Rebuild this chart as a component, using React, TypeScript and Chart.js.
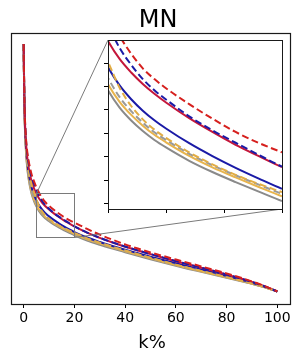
import React, { useEffect, useRef } from "react";
import { Chart, registerables } from "chart.js";
Chart.register(...registerables);

// ---------------- data ----------------
const kValues = [0, 0.1, 0.25, 0.5, 1, 1.5, 2, 3, 4, 5, 6, 7, 8, 9, 10, 12, 14, 16, 18, 20, 25, 30, 35, 40, 45, 50, 55, 60, 65, 70, 75, 80, 85, 90, 95, 100];

const graySolid = [0.415, 0.37, 0.322, 0.275, 0.232, 0.208, 0.192, 0.171, 0.158, 0.1484, 0.141, 0.1355, 0.131, 0.1272, 0.124, 0.1183, 0.1135, 0.1092, 0.1051, 0.1011, 0.0925, 0.0855, 0.0792, 0.0733, 0.0675, 0.0618, 0.0562, 0.0508, 0.0458, 0.041, 0.0362, 0.0313, 0.0264, 0.0212, 0.0156, 0.0088];
const goldSolid = [0.415, 0.3705, 0.323, 0.2765, 0.234, 0.2102, 0.1944, 0.1735, 0.1606, 0.151, 0.1435, 0.1379, 0.1333, 0.1294, 0.1262, 0.1204, 0.1155, 0.1112, 0.1071, 0.1031, 0.0944, 0.0873, 0.0809, 0.0749, 0.069, 0.0632, 0.0575, 0.052, 0.0469, 0.042, 0.0371, 0.0321, 0.027, 0.0216, 0.0158, 0.0088];
const blueSolid = [0.415, 0.372, 0.326, 0.281, 0.24, 0.217, 0.2015, 0.181, 0.168, 0.1583, 0.1505, 0.1446, 0.1397, 0.1356, 0.1321, 0.1258, 0.1203, 0.1153, 0.1107, 0.1063, 0.0973, 0.09, 0.0835, 0.0774, 0.0716, 0.0659, 0.0604, 0.0551, 0.05, 0.045, 0.0397, 0.0343, 0.0288, 0.0229, 0.0165, 0.0088];
const redSolid = [0.415, 0.374, 0.33, 0.287, 0.248, 0.226, 0.211, 0.1915, 0.179, 0.1695, 0.1618, 0.156, 0.1511, 0.1469, 0.1432, 0.1365, 0.1306, 0.1251, 0.1203, 0.1156, 0.1053, 0.0968, 0.0892, 0.0823, 0.0761, 0.0701, 0.0642, 0.0585, 0.0531, 0.0478, 0.0424, 0.0367, 0.0308, 0.0244, 0.0173, 0.0088];
const grayDashed = [0.415, 0.371, 0.324, 0.278, 0.2365, 0.213, 0.1975, 0.1768, 0.1636, 0.1537, 0.1455, 0.1395, 0.1346, 0.1305, 0.1272, 0.1213, 0.1164, 0.1121, 0.1081, 0.1042, 0.0955, 0.0883, 0.0818, 0.0757, 0.0697, 0.0638, 0.058, 0.0524, 0.0472, 0.0422, 0.0372, 0.0321, 0.027, 0.0216, 0.0158, 0.0088];
const goldDashed = [0.415, 0.372, 0.326, 0.282, 0.243, 0.221, 0.2065, 0.186, 0.1718, 0.1606, 0.1495, 0.1417, 0.136, 0.1316, 0.1281, 0.1219, 0.1168, 0.1123, 0.1084, 0.1049, 0.096, 0.0887, 0.0822, 0.076, 0.07, 0.0641, 0.0583, 0.0527, 0.0475, 0.0425, 0.0374, 0.0323, 0.0272, 0.0217, 0.0159, 0.0088];
const blueDashed = [0.415, 0.375, 0.332, 0.29, 0.252, 0.231, 0.217, 0.198, 0.1863, 0.1764, 0.1665, 0.1593, 0.1532, 0.1484, 0.1445, 0.1373, 0.1313, 0.126, 0.1208, 0.1158, 0.1055, 0.097, 0.0894, 0.0825, 0.0762, 0.0702, 0.0643, 0.0586, 0.0532, 0.0479, 0.0424, 0.0367, 0.0308, 0.0243, 0.0172, 0.0088];
const redDashed = [0.415, 0.375, 0.333, 0.292, 0.255, 0.235, 0.222, 0.203, 0.1905, 0.1799, 0.1715, 0.164, 0.1578, 0.1532, 0.1493, 0.1425, 0.1363, 0.1306, 0.1259, 0.1219, 0.1115, 0.102, 0.0937, 0.0861, 0.0793, 0.073, 0.067, 0.0612, 0.0556, 0.05, 0.0442, 0.0383, 0.0321, 0.0253, 0.0178, 0.0088];

const mainXTicks = [0, 20, 40, 60, 80, 100];
const insetXTicks = [5, 10, 15, 20];
const insetYTicks = [0.1, 0.11, 0.12, 0.13, 0.14, 0.15, 0.16];

const mainXRange = [-5, 105];
const mainYRange = [-0.0118, 0.4331];
const insetXRange = [5, 20];
const insetYRange = [0.0977, 0.1699];

const titleText = "MN";
const xLabelText = "k%";

// ---------------- styles ----------------
const FONT = "'DejaVu Sans', 'Liberation Sans', sans-serif";
const W = 303;
const H = 352;
const INSET_BOX = { left: 100, top: 30, width: 190, height: 190 };
const INSET_PAD = { left: 8, top: 10, right: 8, bottom: 11 };

type Series = { data: number[]; color: string; dash: number[] };
const seriesList: Series[] = [
  { data: graySolid, color: "#8a8a8a", dash: [] },
  { data: goldSolid, color: "#e8b44c", dash: [] },
  { data: blueSolid, color: "#1a1aa6", dash: [] },
  { data: redSolid, color: "#c4163a", dash: [] },
  { data: grayDashed, color: "#9a9a9a", dash: [7, 3.5] },
  { data: goldDashed, color: "#e2ad45", dash: [7, 3.5] },
  { data: blueDashed, color: "#1a1aa6", dash: [7, 3.5] },
  { data: redDashed, color: "#d6201e", dash: [7, 3.5] },
];

function buildDatasets() {
  return seriesList.map((s, i) => ({
    data: kValues.map((k, j) => ({ x: k, y: s.data[j] })),
    borderColor: s.color,
    borderWidth: 2,
    borderDash: s.dash,
    pointRadius: 0,
    fill: false,
    cubicInterpolationMode: "monotone" as const,
    clip: 0,
    order: seriesList.length - i,
  }));
}

export default function App() {
  const mainRef = useRef<HTMLCanvasElement | null>(null);
  const insetRef = useRef<HTMLCanvasElement | null>(null);

  useEffect(() => {
    document.body.style.margin = "0";
    if (!mainRef.current || !insetRef.current) return;

    const insetArea = {
      left: INSET_BOX.left + INSET_PAD.left,
      top: INSET_BOX.top + INSET_PAD.top,
      right: INSET_BOX.left + INSET_BOX.width - INSET_PAD.right,
      bottom: INSET_BOX.top + INSET_BOX.height - INSET_PAD.bottom,
    };

    const mainPlugin = {
      id: "mainDecor",
      afterDraw(chart: any) {
        const ctx = chart.ctx as CanvasRenderingContext2D;
        const a = chart.chartArea;
        const xs = chart.scales.x;
        const ys = chart.scales.y;
        ctx.save();
        // zoom indicator rect
        const rx1 = Math.round(xs.getPixelForValue(insetXRange[0])) + 0.5;
        const rx2 = Math.round(xs.getPixelForValue(insetXRange[1])) + 0.5;
        const ry1 = Math.round(ys.getPixelForValue(insetYRange[1])) + 0.5;
        const ry2 = Math.round(ys.getPixelForValue(insetYRange[0])) + 0.5;
        ctx.strokeStyle = "#7a7a7a";
        ctx.lineWidth = 1;
        ctx.strokeRect(rx1, ry1, rx2 - rx1, ry2 - ry1);
        ctx.beginPath();
        ctx.moveTo(rx1, ry1);
        ctx.lineTo(insetArea.left, insetArea.top);
        ctx.moveTo(rx2, ry2);
        ctx.lineTo(insetArea.right, insetArea.bottom);
        ctx.stroke();
        // frame
        ctx.strokeStyle = "#1a1a1a";
        ctx.lineWidth = 1.2;
        ctx.strokeRect(Math.round(a.left) + 0.5, Math.round(a.top) + 0.5, Math.round(a.right - a.left), Math.round(a.bottom - a.top));
        // title & x label
        ctx.fillStyle = "#000";
        ctx.textAlign = "center";
        ctx.textBaseline = "alphabetic";
        ctx.font = `24px ${FONT}`;
        ctx.fillText(titleText, 158, 26.5);
        ctx.font = `18px ${FONT}`;
        ctx.fillText(xLabelText, 152, 348);
        ctx.restore();
      },
    };

    const main = new Chart(mainRef.current, {
      type: "line",
      data: { datasets: buildDatasets() as any },
      options: {
        animation: false,
        responsive: false,
        layout: { padding: { left: 11, right: 13, top: 33, bottom: 0 } },
        plugins: { legend: { display: false }, tooltip: { enabled: false }, title: { display: false } },
        scales: {
          x: {
            type: "linear",
            min: mainXRange[0],
            max: mainXRange[1],
            afterBuildTicks: (s: any) => {
              s.ticks = mainXTicks.map((v) => ({ value: v }));
            },
            afterFit: (s: any) => {
              s.height = 48;
            },
            ticks: {
              color: "#000",
              font: { family: FONT, size: 14 },
              padding: 2,
              maxRotation: 0,
              autoSkip: false,
              callback: (v: any) => String(v),
            },
            grid: { drawOnChartArea: false, drawTicks: true, tickLength: 4, color: "#000", lineWidth: 1 },
            border: { display: false },
          },
          y: {
            type: "linear",
            display: false,
            min: mainYRange[0],
            max: mainYRange[1],
          },
        },
      },
      plugins: [mainPlugin],
    });

    const insetPlugin = {
      id: "insetDecor",
      beforeDatasetsDraw(chart: any) {
        const ctx = chart.ctx as CanvasRenderingContext2D;
        const a = chart.chartArea;
        ctx.save();
        ctx.fillStyle = "#fff";
        ctx.fillRect(a.left, a.top, a.right - a.left, a.bottom - a.top);
        ctx.restore();
      },
      afterDraw(chart: any) {
        const ctx = chart.ctx as CanvasRenderingContext2D;
        const a = chart.chartArea;
        ctx.save();
        ctx.strokeStyle = "#1a1a1a";
        ctx.lineWidth = 1;
        ctx.strokeRect(Math.round(a.left) + 0.5, Math.round(a.top) + 0.5, Math.round(a.right - a.left), Math.round(a.bottom - a.top));
        ctx.restore();
      },
    };

    const inset = new Chart(insetRef.current, {
      type: "line",
      data: { datasets: buildDatasets() as any },
      options: {
        animation: false,
        responsive: false,
        layout: { padding: { left: 0, right: INSET_PAD.right, top: INSET_PAD.top, bottom: 0 } },
        plugins: { legend: { display: false }, tooltip: { enabled: false }, title: { display: false } },
        scales: {
          x: {
            type: "linear",
            min: insetXRange[0],
            max: insetXRange[1],
            afterBuildTicks: (s: any) => {
              s.ticks = insetXTicks.map((v) => ({ value: v }));
            },
            afterFit: (s: any) => {
              s.height = INSET_PAD.bottom;
            },
            ticks: { display: false },
            grid: { drawOnChartArea: false, drawTicks: true, tickLength: 4, color: "#000", lineWidth: 1 },
            border: { display: false },
          },
          y: {
            type: "linear",
            min: insetYRange[0],
            max: insetYRange[1],
            afterBuildTicks: (s: any) => {
              s.ticks = insetYTicks.map((v) => ({ value: v }));
            },
            afterFit: (s: any) => {
              s.width = INSET_PAD.left;
            },
            ticks: { display: false },
            grid: { drawOnChartArea: false, drawTicks: true, tickLength: 4, color: "#000", lineWidth: 1 },
            border: { display: false },
          },
        },
      },
      plugins: [insetPlugin],
    });

    return () => {
      main.destroy();
      inset.destroy();
    };
  }, []);

  return (
    <div style={{ position: "relative", width: W, height: H, background: "#fff" }}>
      <canvas ref={mainRef} width={W} height={H} style={{ position: "absolute", left: 0, top: 0, width: W, height: H }} />
      <canvas
        ref={insetRef}
        width={INSET_BOX.width}
        height={INSET_BOX.height}
        style={{ position: "absolute", left: INSET_BOX.left, top: INSET_BOX.top, width: INSET_BOX.width, height: INSET_BOX.height }}
      />
    </div>
  );
}
